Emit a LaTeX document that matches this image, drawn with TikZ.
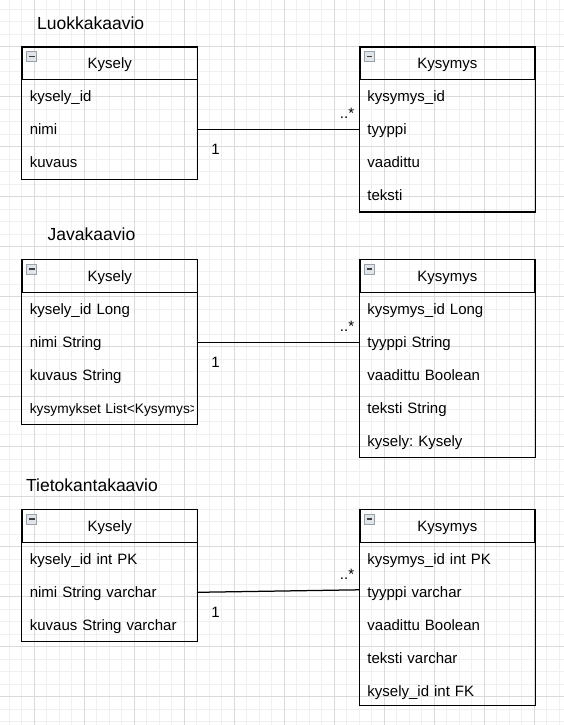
\documentclass[tikz,border=0pt]{standalone}
\usepackage{fontspec}
\setmainfont{Liberation Sans}
\usetikzlibrary{positioning}
\definecolor{gridminor}{HTML}{F0F0F0}
\definecolor{gridmajor}{HTML}{DADADA}
\definecolor{iconline}{HTML}{98A2AC}
\definecolor{iconfill}{HTML}{E2E5E8}
\definecolor{iconbar}{HTML}{3C4044}
\frenchspacing
\begin{document}
\begin{tikzpicture}[x=1pt, y=-1pt,
    title/.style={font=\fontsize{17.5}{21}\selectfont, anchor=base west, inner sep=0pt},
    header/.style={draw, line width=1.25pt, minimum width=175pt, minimum height=32.5pt,
      inner sep=0pt, text height=13.5pt, text depth=3.5pt, font=\fontsize{15}{18}\selectfont},
    field/.style={minimum height=32.5pt, text width=160pt, inner xsep=7.5pt, inner ysep=0pt,
      align=left, text height=13.5pt, text depth=3.5pt, font=\fontsize{15}{18}\selectfont},
    outline/.style={draw, line width=1.25pt},
    assoc/.style={line width=1.25pt},
    mult/.style={inner sep=0pt, font=\fontsize{15}{18}\selectfont}]

    \useasboundingbox (0,0) rectangle (564,725);
    \fill[white] (0,0) rectangle (564,725);
    \foreach \i in {0,...,44} \draw[gridminor, line width=1pt] (9.3+12.5*\i,0) -- (9.3+12.5*\i,725);
    \foreach \j in {0,...,57} \draw[gridminor, line width=1pt] (0,9.1+12.5*\j) -- (564,9.1+12.5*\j);
    \foreach \i in {0,...,10} \draw[gridmajor, line width=1pt] (34.3+50*\i,0) -- (34.3+50*\i,725);
    \foreach \j in {0,...,13} \draw[gridmajor, line width=1pt] (0,46.6+50*\j) -- (564,46.6+50*\j);

    % Luokkakaavio
    \node[title] (luokka) at (37,29.3) {Luokkakaavio};
    \node[header, anchor=north west] (kys1) at (21.7,46.7) {Kysely};
    \node[field, below=0pt of kys1] (kys1id) {kysely\_id};
    \node[field, below=0pt of kys1id] (kys1nimi) {nimi};
    \node[field, below=0pt of kys1nimi] (kys1kuvaus) {kuvaus};
    \draw[outline] (kys1.north west) rectangle (kys1kuvaus.south east);

    \node[header, anchor=north west] (kym1) at (359.3,46.7) {Kysymys};
    \node[field, below=0pt of kym1] (kym1id) {kysymys\_id};
    \node[field, below=0pt of kym1id] (kym1tyyppi) {tyyppi};
    \node[field, below=0pt of kym1tyyppi] (kym1vaad) {vaadittu};
    \node[field, below=0pt of kym1vaad] (kym1teksti) {teksti};
    \draw[outline] (kym1.north west) rectangle (kym1teksti.south east);

    \draw[assoc] (kys1nimi.east) -- node[mult, at start, xshift=18pt, yshift=-20pt] (yksi1) {1}
      node[mult, at end, anchor=base east, xshift=-5pt, yshift=11pt] (moni1) {..*} (kym1tyyppi.west);

    % Javakaavio
    \node[title] (java) at (47.5,240.7) {Javakaavio};
    \node[header, anchor=north west] (kys2) at (21.7,259.2) {Kysely};
    \node[field, below=0pt of kys2] (kys2id) {kysely\_id Long};
    \node[field, below=0pt of kys2id] (kys2nimi) {nimi String};
    \node[field, below=0pt of kys2nimi] (kys2kuvaus) {kuvaus String};
    \begin{scope}
      \clip (kys2kuvaus.south west) rectangle ([xshift=-4.5pt, yshift=-32.5pt]kys2kuvaus.south east);
      \node[field, text width=230pt, anchor=north west, font=\fontsize{13.75}{16}\selectfont]
        (kys2lista) at (kys2kuvaus.south west) {kysymykset List<Kysymys>};
    \end{scope}
    \draw[outline] (kys2.north west) rectangle (kys2kuvaus.east |- kys2lista.south);

    \node[header, anchor=north west] (kym2) at (359.3,259.2) {Kysymys};
    \node[field, below=0pt of kym2] (kym2id) {kysymys\_id Long};
    \node[field, below=0pt of kym2id] (kym2tyyppi) {tyyppi String};
    \node[field, below=0pt of kym2tyyppi] (kym2vaad) {vaadittu Boolean};
    \node[field, below=0pt of kym2vaad] (kym2teksti) {teksti String};
    \node[field, below=0pt of kym2teksti] (kym2kysely) {kysely: Kysely};
    \draw[outline] (kym2.north west) rectangle (kym2kysely.south east);

    \draw[assoc] (kys2nimi.east) -- node[mult, at start, xshift=18pt, yshift=-20pt] (yksi2) {1}
      node[mult, at end, anchor=base east, xshift=-5pt, yshift=11pt] (moni2) {..*} (kym2tyyppi.west);

    % Tietokantakaavio
    \node[title] (tietokanta) at (26,491) {Tietokantakaavio};
    \node[header, anchor=north west] (kys3) at (21.7,509.2) {Kysely};
    \node[field, below=0pt of kys3] (kys3id) {kysely\_id int PK};
    \node[field, below=0pt of kys3id] (kys3nimi) {nimi String varchar};
    \node[field, below=0pt of kys3nimi] (kys3kuvaus) {kuvaus String varchar};
    \draw[outline] (kys3.north west) rectangle (kys3kuvaus.south east);

    \node[header, anchor=north west] (kym3) at (359.3,509.2) {Kysymys};
    \node[field, below=0pt of kym3] (kym3id) {kysymys\_id int PK};
    \node[field, below=0pt of kym3id] (kym3tyyppi) {tyyppi varchar};
    \node[field, below=0pt of kym3tyyppi] (kym3vaad) {vaadittu Boolean};
    \node[field, below=0pt of kym3vaad] (kym3teksti) {teksti varchar};
    \node[field, below=0pt of kym3teksti] (kym3fk) {kysely\_id int FK};
    \draw[outline] (kym3.north west) rectangle ([yshift=2pt]kym3fk.south east);

    \draw[assoc] (kys3nimi.east) -- node[mult, at start, xshift=18pt, yshift=-20pt] (yksi3) {1}
      node[mult, at end, anchor=base east, xshift=-5pt, yshift=10pt] (moni3) {..*} ([yshift=2.5pt]kym3tyyppi.west);

    % collapse icons
    \foreach \h in {kys1,kym1,kys2,kym2,kys3,kym3} {
      \draw[iconline, fill=iconfill, line width=0.8pt] ([shift={(5pt,-5pt)}]\h.north west) rectangle ++(10,10);
      \draw[iconbar, line width=1.6pt] ([shift={(7.2pt,-10pt)}]\h.north west) -- ++(5.6,0);
    }
\end{tikzpicture}
\end{document}
